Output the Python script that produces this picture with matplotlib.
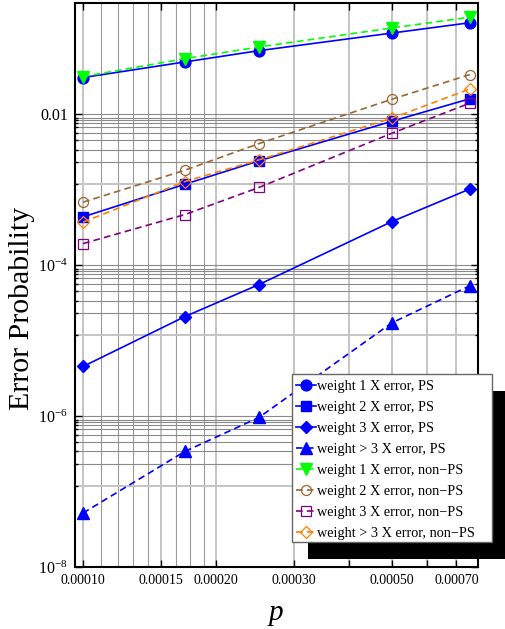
import matplotlib
matplotlib.use("Agg")
import matplotlib.pyplot as plt
from matplotlib.ticker import FixedLocator, FixedFormatter, NullFormatter
from matplotlib.patches import Rectangle

plt.rcParams['font.family'] = ['Liberation Serif', 'DejaVu Serif']
plt.rcParams['mathtext.fontset'] = 'custom'
plt.rcParams['mathtext.rm'] = 'Liberation Serif'
plt.rcParams['mathtext.it'] = 'Liberation Serif:italic'

# physical error rate p
p = [1.0e-4, 1.7e-4, 2.5e-4, 5.0e-4, 7.5e-4]

# error probabilities
w1_ps = [0.0306, 0.0493, 0.0695, 0.119, 0.163]
w2_ps = [4.36e-4, 1.18e-3, 2.41e-3, 8.07e-3, 1.60e-2]
w3_ps = [4.54e-6, 2.08e-5, 5.53e-5, 3.78e-4, 1.02e-3]
wgt3_ps = [5.19e-8, 3.40e-7, 9.58e-7, 1.72e-5, 5.32e-5]
w1_nps = [0.0315, 0.0545, 0.0778, 0.139, 0.193]
w2_nps = [6.83e-4, 1.81e-3, 4.08e-3, 1.58e-2, 3.35e-2]
w3_nps = [1.93e-4, 4.68e-4, 1.07e-3, 5.60e-3, 1.40e-2]
wgt3_nps = [3.71e-4, 1.28e-3, 2.48e-3, 8.85e-3, 2.16e-2]

labels = ["weight 1 X error, PS", "weight 2 X error, PS", "weight 3 X error, PS",
          "weight > 3 X error, PS", "weight 1 X error, non\u2212PS",
          "weight 2 X error, non\u2212PS", "weight 3 X error, non\u2212PS",
          "weight > 3 X error, non\u2212PS"]

xticks = [1.0e-4, 1.5e-4, 2.0e-4, 3.0e-4, 4.0e-4, 5.0e-4, 6.0e-4, 7.0e-4]
xticklabels = ["0.00010", "0.00015", "0.00020", "0.00030", "", "0.00050", "", "0.00070"]
yticks = [1e-8, 1e-6, 1e-4, 1e-2]
yticklabels = [r"$10^{-8}$", r"$10^{-6}$", r"$10^{-4}$", "0.01"]

fig = plt.figure(figsize=(5.05, 6.29), dpi=100)
ax = fig.add_axes([75/505, 1-567/629, 403/505, 563.7/629])
ax.set_xscale('log')
ax.set_yscale('log')
ax.set_xlim(9.59e-5, 7.83e-4)
ax.set_ylim(1e-8, 0.295)

# grid lines (drawn by hand to mimic the original)
xminor_grid = [1.1e-4, 1.2e-4, 1.3e-4, 1.4e-4, 1.625e-4, 1.75e-4, 1.875e-4]
for xv in xticks:
    ax.axvline(xv, color='#c4c4c4', lw=1.4, zorder=0)
for xv in xminor_grid:
    ax.axvline(xv, color='#9a9a9a', lw=0.8, zorder=0)
fracs = [0.89, 0.83, 0.76, 0.67, 0.565, 0.45, 0.34, 0.23]
yminor = []
for dec in [1e-2, 1e-4, 1e-6]:
    ax.axhline(dec, color='#8a8a8a', lw=0.8, zorder=0)
    for f in fracs:
        ax.axhline(dec*f, color='#8a8a8a', lw=0.8, zorder=0)
        yminor.append(dec*f)
    ax.axhline(dec*0.12, color='#c4c4c4', lw=1.4, zorder=0)
    yminor.append(dec*0.12)

blue = '#0000ff'
lw = 1.2
ds = (4, 2.5)
ax.plot(p, w1_ps, color=blue, lw=lw, marker='o', ms=7.8, label=labels[0])
ax.plot(p, w2_ps, color=blue, lw=lw, marker='s', ms=6.8, label=labels[1])
ax.plot(p, w3_ps, color=blue, lw=lw, marker='D', ms=5.8, label=labels[2])
ax.plot(p, wgt3_ps, color=blue, lw=lw, ls='--', dashes=ds, marker='^', ms=8, label=labels[3])
ax.plot(p, w1_nps, color='#00ff00', lw=lw, ls='--', dashes=ds, marker='v', ms=8, label=labels[4])
ax.plot(p, w2_nps, color='#996633', lw=lw, ls='--', dashes=ds, marker='o', ms=7.2,
        mfc='none', mew=0.9, label=labels[5])
ax.plot(p, w3_nps, color='#800080', lw=lw, ls='--', dashes=ds, marker='s', ms=6.8,
        mfc='none', mew=0.9, label=labels[6])
ax.plot(p, wgt3_nps, color='#ff8000', lw=lw, ls='--', dashes=ds, marker='D', ms=5.8,
        mfc='none', mew=0.9, label=labels[7])

ax.xaxis.set_major_locator(FixedLocator(xticks))
ax.xaxis.set_major_formatter(FixedFormatter(xticklabels))
ax.xaxis.set_minor_locator(FixedLocator([]))
ax.yaxis.set_major_locator(FixedLocator(yticks))
ax.yaxis.set_major_formatter(FixedFormatter(yticklabels))
ax.yaxis.set_minor_locator(FixedLocator(yminor))
ax.yaxis.set_minor_formatter(NullFormatter())

ax.tick_params(which='both', direction='in', top=True, right=True, width=1)
ax.tick_params(which='major', length=5)
ax.tick_params(which='minor', length=2.5)
ax.tick_params(axis='x', labelsize=10, pad=5)
ax.tick_params(axis='y', labelsize=11.5, pad=5)
for s in ax.spines.values():
    s.set_linewidth(1.5)

ax.set_ylabel("Error Probability", fontsize=21.5)
ax.yaxis.set_label_coords(-0.1, 0.458)
ax.set_xlabel("p", fontsize=21, style='italic')
ax.xaxis.set_label_coords(0.5, -0.058)

# legend with a hand-made frame and solid shadow
handles, labs = ax.get_legend_handles_labels()
lx, ly = 291.7/505, 1-374.3/629
leg = fig.legend(handles, labs, loc='upper left', bbox_to_anchor=(lx, ly - 1/629),
                 bbox_transform=fig.transFigure, fontsize=10.3, handlelength=1.4,
                 handletextpad=0.05, borderpad=0.3, labelspacing=0.56, borderaxespad=0,
                 frameon=False)
leg.set_zorder(7)

W, H = 200.6, 167.4
x0 = lx * 505
y0 = ly * 629 - H
frame = Rectangle((x0, y0), W, H, transform=None, facecolor='white',
                  edgecolor='#666666', lw=1.0, zorder=6)
shadow = Rectangle((x0 + 16.5, y0 - 17), W, H, transform=None,
                   facecolor='black', edgecolor='none', zorder=5)
for r in (shadow, frame):
    r.set_figure(fig)
    fig.patches.append(r)

fig.savefig("out.png", dpi=100)
